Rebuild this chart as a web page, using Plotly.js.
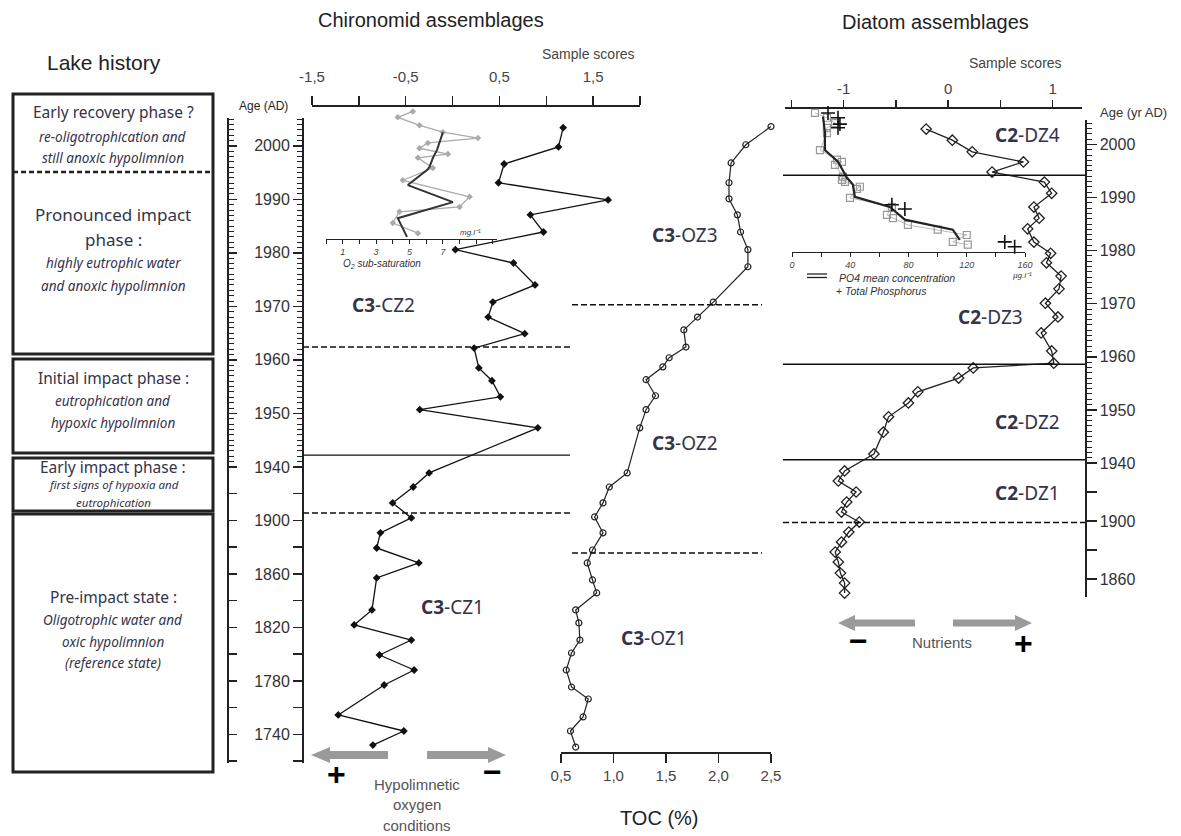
<!DOCTYPE html>
<html><head><meta charset="utf-8">
<script src="https://cdn.plot.ly/plotly-3.0.1.min.js"></script>
<style>body{margin:0;background:#fff}#chart{width:1181px;height:836px}</style>
</head><body><div id="chart"></div>
<script>
// ---------------- DATA ----------------
// Chironomid assemblages (core C3): sample scores vs age (AD)
const chiroAge = [2003.4,1999.8,1996.6,1993.1,1989.9,1987.1,1983.9,1980.6,1978.1,1974.0,1970.8,1968.0,1964.9,1962.2,1958.5,1956.1,1953.1,1950.7,1947.3,1935.5,1925.0,1913.1,1901.9,1890.7,1879.4,1868.2,1857.0,1833.1,1821.9,1810.6,1799.4,1788.2,1777.0,1754.6,1742.6,1732.1];
const chiroScore = [1.18,1.13,0.55,0.49,1.66,0.83,0.97,0.03,0.65,0.88,0.43,0.38,0.77,0.23,0.28,0.42,0.51,-0.35,0.91,-0.25,-0.42,-0.64,-0.44,-0.77,-0.81,-0.36,-0.81,-0.86,-1.05,-0.44,-0.78,-0.41,-0.73,-1.22,-0.52,-0.85];
// TOC (%) on core C3
const tocAge = [2003.6,2000.2,1996.8,1993.1,1990.1,1987.1,1983.9,1980.6,1977.4,1970.8,1968.0,1965.6,1962.4,1960.4,1958.7,1956.3,1953.3,1950.7,1947.3,1935.5,1925.0,1913.1,1902.6,1890.7,1877.9,1868.2,1855.5,1845.8,1833.1,1823.4,1810.6,1800.9,1788.2,1775.5,1766.5,1753.1,1742.6,1730.6];
const tocVal = [2.50,2.26,2.12,2.10,2.10,2.18,2.21,2.28,2.28,1.95,1.80,1.67,1.69,1.53,1.47,1.31,1.40,1.31,1.25,1.13,0.96,0.90,0.82,0.90,0.80,0.75,0.80,0.84,0.64,0.67,0.68,0.60,0.55,0.60,0.76,0.71,0.59,0.64];
// O2 sub-saturation inset (mg/l)
const o2Age = [2006.5,2005.4,2003.9,2002.6,2001.5,2000.6,1999.6,1998.5,1997.8,1995.9,1993.6,1990.5,1988.6,1987.7,1985.6,1983.7];
const o2Val = [5.2,4.3,5.6,7.0,9.1,6.1,5.6,7.3,5.5,6.4,4.6,8.6,8.0,4.4,4.0,5.5];
const o2MeanAge = [2002.6,1999.3,1997.8,1996.1,1995.5,1992.7,1989.5,1986.5,1983.0];
const o2MeanVal = [7.0,6.65,6.4,6.2,6.05,4.9,7.6,4.3,4.85];
// Diatom assemblages (core C2): sample scores vs age (yr AD)
const diatAge = [2002.9,2000.8,1998.6,1996.7,1994.8,1992.9,1990.8,1988.2,1986.1,1984.1,1981.6,1979.5,1977.7,1975.2,1972.8,1970.1,1967.5,1964.5,1961.1,1958.8,1957.9,1956.0,1953.4,1951.3,1948.7,1945.8,1941.7,1934.5,1927.6,1920.0,1913.1,1906.2,1899.3,1892.4,1885.5,1878.6,1871.7,1864.1,1857.2,1850.3];
const diatScore = [-0.21,0.04,0.23,0.72,0.42,0.92,0.99,0.82,0.87,0.76,0.82,0.98,0.94,1.08,1.06,0.93,1.05,0.89,0.99,1.01,0.24,0.10,-0.29,-0.38,-0.57,-0.62,-0.71,-0.99,-1.05,-0.88,-0.97,-1.02,-0.85,-0.95,-1.02,-1.08,-1.05,-1.03,-0.99,-0.99];
// Phosphorus inset (ug/l)
const po4Age = [2005.9,2005.0,2004.0,2003.1,2002.1,1998.9,1997.1,1996.7,1996.1,1993.9,1993.3,1992.9,1992.0,1991.6,1989.9,1988.2,1986.7,1986.1,1984.8,1983.9,1982.9,1981.6,1981.1];
const po4Val = [15.8,24,29.5,24,24,19.2,30.9,34.3,29.5,35,34.3,36.4,46.6,44.6,39.8,68.6,65.2,69.3,79.6,100.1,120,110.4,120.7];
const po4MeanAge = [2005.2,2002.3,1998.9,1996.7,1993.7,1992.4,1990.1,1988.2,1985.8,1983.9,1982.0];
const po4MeanVal = [21.3,22.6,22.6,31.6,37.7,41.8,43.2,67.2,77.5,110.4,115.2];
const tpAge = [2005.9,2005.0,2003.8,2003.1,1988.6,1987.8,1981.6,1980.7];
const tpVal = [24.7,31.6,32.9,31.6,68.6,77.5,146.1,152.9];
// Zone boundaries (age, dashed?)
const czBounds = [[1962.4,true],[1942.2,false],[1905.6,true]];
const ozBounds = [[1970.3,true],[1875.7,true]];
const dzBounds = [[1994.2,false],[1958.6,false],[1940.6,false],[1899.0,true]];
// Tick labels
const chiroScoreTicks = [-1.5,-1,-0.5,0,0.5,1,1.5,2];
const chiroScoreText = ['-1,5','','-0,5','','0,5','','1,5',''];
const tocTicks = [0.5,1,1.5,2,2.5];
const tocText = ['0,5','1,0','1,5','2,0','2,5'];
const o2Ticks = [0,1,2,3,4,5,6,7,8,9,10];
const o2Text = ['','1','','3','','5','','7','','',''];
const diatScoreTicks = [-1.5,-1,-0.5,0,0.5,1];
const diatScoreText = ['','-1','','0','','1'];
const po4Ticks = [0,20,40,60,80,100,120,140,160];
const po4Text = ['0','','40','','80','','120','','160'];
const chiroAgeTicks = [1720,1740,1760,1780,1800,1820,1840,1860,1880,1900,1920,1940,1950,1960,1970,1980,1990,2000];
const chiroAgeText = ['','1740','','1780','','1820','','1860','','1900','','1940','1950','1960','1970','1980','1990','2000'];
const diatAgeTicks = [1860,1880,1900,1920,1940,1950,1960,1970,1980,1990,2000];
const diatAgeText = ['1860','','1900','','1940','1950','1960','1970','1980','1990','2000'];

// --------------- helpers ---------------
const W = 1181, H = 836;
const px = x => x / W, py = y => 1 - y / H;
// age axes are stretched after 1940 (broken scale as in the original figure)
const posC = a => a >= 1940 ? a : 1940 - (1940 - a) / 4;
const posD = a => a >= 1940 ? a : 1940 - (1940 - a) / 3.66;
const minorYears = []; for (let a = 1941; a <= 2005; a++) if (a % 10) minorYears.push(a);

const AX = {showgrid:false, zeroline:false, showline:true, linecolor:'#222', linewidth:1.5,
  tickcolor:'#222', tickwidth:1.5, fixedrange:true, tickmode:'array'};
const FONT = 'Liberation Sans, Arial, sans-serif';
const NOTO = 'Noto Sans, Open Sans, sans-serif';

const chiroRange = [1884.67, 2005.2];
const layout = {
  width: W, height: H, margin:{l:0,r:0,t:0,b:0}, autosize:false,
  paper_bgcolor:'#fff', plot_bgcolor:'rgba(0,0,0,0)', showlegend:false,
  font:{family:FONT, color:'#333'},
  xaxis: Object.assign({}, AX, {domain:[px(312),px(640)], range:[-1.5,2], anchor:'free', position:py(105), side:'top',
    ticks:'outside', ticklen:9, ticklabelstandoff:8, tickvals:chiroScoreTicks, ticktext:chiroScoreText, tickfont:{size:15,color:'#444'}}),
  yaxis: Object.assign({}, AX, {domain:[py(763),py(118)], range:chiroRange, anchor:'free', position:px(302), side:'left',
    ticks:'outside', ticklen:9, tickvals:chiroAgeTicks.map(posC), ticktext:chiroAgeText, tickfont:{size:16,color:'#333'},
    minor:{tickmode:'array', tickvals:minorYears.map(posC), ticks:'outside', ticklen:5, tickwidth:1, tickcolor:'#222'}}),
  yaxis2: Object.assign({}, AX, {overlaying:'y', range:chiroRange, anchor:'free', position:px(227), side:'left',
    ticks:'inside', ticklen:8, tickvals:chiroAgeTicks.map(posC), showticklabels:false,
    minor:{tickmode:'array', tickvals:minorYears.map(posC), ticks:'inside', ticklen:5, tickwidth:1, tickcolor:'#222'}}),
  xaxis2: Object.assign({}, AX, {domain:[px(561),px(771)], range:[0.5,2.5], anchor:'free', position:py(752), side:'bottom',
    ticks:'outside', ticklen:9, tickvals:tocTicks, ticktext:tocText, tickfont:{size:15,color:'#444'}}),
  xaxis3: Object.assign({}, AX, {domain:[px(326),px(497)], range:[0,10.24], anchor:'free', position:py(239), side:'bottom',
    linewidth:1.2, tickwidth:1, ticks:'outside', ticklen:4, tickvals:o2Ticks, ticktext:o2Text,
    tickfont:{size:9,color:'#444',style:'italic'}}),
  yaxis3: {domain:[py(239),py(105)], range:[1982.6,2007.7], visible:false, fixedrange:true},
  xaxis4: Object.assign({}, AX, {domain:[px(785),px(1082)], range:[-1.56,1.28], anchor:'free', position:py(107), side:'top',
    ticks:'outside', ticklen:7, tickvals:diatScoreTicks, ticktext:diatScoreText, tickfont:{size:15,color:'#444'}}),
  yaxis4: Object.assign({}, AX, {domain:[py(597),py(120)], range:[1914.76,2004.6], anchor:'free', position:px(1085), side:'right',
    ticks:'outside', ticklen:10, tickvals:diatAgeTicks.map(posD), ticktext:diatAgeText, tickfont:{size:16,color:'#333'},
    minor:{tickmode:'array', tickvals:minorYears.filter(a=>a<2005).map(posD), ticks:'outside', ticklen:5, tickwidth:1, tickcolor:'#222'}}),
  xaxis5: Object.assign({}, AX, {domain:[px(792),px(1025)], range:[0,160], anchor:'free', position:py(252), side:'bottom',
    linewidth:1.2, tickwidth:1, ticks:'outside', ticklen:4, tickvals:po4Ticks, ticktext:po4Text,
    tickfont:{size:9,color:'#444',style:'italic'}}),
  yaxis5: {domain:[py(252),py(105)], range:[1979.7,2007.4], visible:false, fixedrange:true},
  shapes: [], annotations: []
};

// zone boundary lines
const hline = (yref, y, x0, x1, dashed) => ({type:'line', xref:'paper', yref:yref, x0:px(x0), x1:px(x1), y0:y, y1:y,
  line:{color:'#111', width:1.4, dash: dashed ? '6px,3px' : 'solid'}});
czBounds.forEach(([a,d]) => layout.shapes.push(hline('y', posC(a), 303, 570, d)));
ozBounds.forEach(([a,d]) => layout.shapes.push(hline('y', posC(a), 572, 762, d)));
dzBounds.forEach(([a,d]) => layout.shapes.push(hline('y4', posD(a), 783, 1085, d)));

// lake history boxes
const rect = (x0,y0,x1,y1) => ({type:'rect', xref:'paper', yref:'paper', x0:px(x0), x1:px(x1), y0:py(y1), y1:py(y0),
  line:{color:'#222', width:3}, fillcolor:'rgba(0,0,0,0)'});
layout.shapes.push(rect(13,94,213,354), rect(13,359,213,453), rect(13,458,213,511), rect(13,514,213,772));
layout.shapes.push({type:'line', xref:'paper', yref:'paper', x0:px(13), x1:px(213), y0:py(172), y1:py(172),
  line:{color:'#222', width:2.5, dash:'5px,3px'}});

// grey arrows
const path = pts => 'M ' + pts.map(p => px(p[0]) + ',' + py(p[1])).join(' L ') + ' Z';
const arrow = (tip, base, tail, yc, sh, hh) => ({type:'path', xref:'paper', yref:'paper', fillcolor:'#9a9a9a', line:{width:0},
  path: path([[tip,yc],[base,yc-hh/2],[base,yc-sh/2],[tail,yc-sh/2],[tail,yc+sh/2],[base,yc+sh/2],[base,yc+hh/2]])});
layout.shapes.push(arrow(311,330,388,755,8,16), arrow(506,488,427,755,8,16));
layout.shapes.push(arrow(838,855,915,623,7,16), arrow(1032,1015,953,623,7,16));
// PO4 legend double line
layout.shapes.push({type:'line', xref:'paper', yref:'paper', x0:px(807), x1:px(827), y0:py(274), y1:py(274), line:{color:'#222',width:1.3}});
layout.shapes.push({type:'line', xref:'paper', yref:'paper', x0:px(807), x1:px(827), y0:py(277.5), y1:py(277.5), line:{color:'#222',width:1.3}});

// text
const txt = (t, x, y, size, opts) => Object.assign({text:t, x:px(x), y:py(y), xref:'paper', yref:'paper', showarrow:false,
  xanchor:'center', yanchor:'middle', font:{size:size, color:'#222', family:FONT}}, opts || {});
const boxTxt = (t, y, size, italic) => txt(t, 113, y, size, {font:{size:size, color:'#33334a', family:NOTO, style: italic ? 'italic':'normal'}});
const zoneTxt = (a, b, x, y) => txt('<b>' + a + '</b>-' + b, x, y, 19, {font:{size:19, color:'#33334a', family:NOTO}});
layout.annotations.push(
  txt('Chironomid assemblages', 431, 20, 20),
  txt('Diatom assemblages', 935, 22, 20),
  txt('Lake history', 104, 62, 21),
  txt('Sample scores', 588, 54, 14, {font:{size:14,color:'#444',family:FONT}}),
  txt('Sample scores', 1015, 63, 14, {font:{size:14,color:'#444',family:FONT}}),
  txt('Age (AD)', 263, 106, 12),
  txt('Age (yr AD)', 1133, 112, 13, {font:{size:13,color:'#333',family:FONT}}),
  txt('<i>mg.l⁻¹</i>', 470, 232, 8, {font:{size:8,color:'#333',family:FONT}}),
  txt('<i>O<sub>2</sub> sub-saturation</i>', 382, 264, 10, {font:{size:10,color:'#333',family:FONT}}),
  txt('<i>µg.l⁻¹</i>', 1022, 275, 8, {font:{size:8,color:'#333',family:FONT}}),
  txt('<i>PO4 mean concentration</i>', 897, 278, 10.5, {font:{size:10.5,color:'#333',family:FONT}}),
  txt('+ <i>Total Phosphorus</i>', 881, 291, 10.5, {font:{size:10.5,color:'#333',family:FONT}}),
  txt('TOC (%)', 660, 818, 20),
  txt('Hypolimnetic', 417, 784, 15, {font:{size:15,color:'#555',family:FONT}}),
  txt('oxygen', 417, 804, 15, {font:{size:15,color:'#555',family:FONT}}),
  txt('conditions', 417, 825, 15, {font:{size:15,color:'#555',family:FONT}}),
  txt('<b>+</b>', 336, 774, 32, {font:{size:32,color:'#000',family:FONT}}),
  txt('<b>−</b>', 492, 772, 32, {font:{size:32,color:'#000',family:FONT}}),
  txt('Nutrients', 942, 642, 15, {font:{size:15,color:'#555',family:FONT}}),
  txt('<b>−</b>', 858, 641, 32, {font:{size:32,color:'#000',family:FONT}}),
  txt('<b>+</b>', 1023, 643, 32, {font:{size:32,color:'#000',family:FONT}}),
  zoneTxt('C3','CZ2', 384, 305), zoneTxt('C3','CZ1', 452, 607),
  zoneTxt('C3','OZ3', 685, 235), zoneTxt('C3','OZ2', 685, 443), zoneTxt('C3','OZ1', 654, 638),
  zoneTxt('C2','DZ4', 1027, 135), zoneTxt('C2','DZ3', 990, 317), zoneTxt('C2','DZ2', 1027, 422), zoneTxt('C2','DZ1', 1027, 493),
  boxTxt('Early recovery phase ?', 112, 15.5), boxTxt('re-oligotrophication and', 137, 13.5, true), boxTxt('still anoxic hypolimnion', 158, 13.5, true),
  boxTxt('Pronounced impact', 215, 17), boxTxt('phase :', 240, 17), boxTxt('highly eutrophic water', 263, 13.5, true), boxTxt('and anoxic hypolimnion', 286, 13.5, true),
  boxTxt('Initial impact phase :', 378, 15.5), boxTxt('eutrophication and', 401, 13.5, true), boxTxt('hypoxic hypolimnion', 423, 13.5, true),
  boxTxt('Early impact phase :', 467, 15.5), boxTxt('first signs of hypoxia and', 485, 11.5, true), boxTxt('eutrophication', 502, 11.5, true),
  boxTxt('Pre-impact state :', 597, 15.5), boxTxt('Oligotrophic water and', 620, 13.5, true), boxTxt('oxic hypolimnion', 642, 13.5, true), boxTxt('(reference state)', 663, 13.5, true)
);

// --------------- traces ---------------
const traces = [
  {x:chiroScore, y:chiroAge.map(posC), xaxis:'x', yaxis:'y', mode:'lines+markers', cliponaxis:false,
   line:{color:'#111', width:1.3}, marker:{symbol:'diamond', size:6, color:'#111'}, hoverinfo:'skip'},
  {x:[0], y:[1950], xaxis:'x', yaxis:'y2', mode:'markers', marker:{opacity:0}, hoverinfo:'skip'},
  {x:tocVal, y:tocAge.map(posC), xaxis:'x2', yaxis:'y', mode:'lines+markers', cliponaxis:false,
   line:{color:'#222', width:1.2}, marker:{symbol:'circle-open', size:6, color:'#222', line:{width:1.2}}, hoverinfo:'skip'},
  {x:o2Val, y:o2Age, xaxis:'x3', yaxis:'y3', mode:'lines+markers', cliponaxis:false,
   line:{color:'#aaa', width:1.3}, marker:{symbol:'diamond', size:5, color:'#aaa'}, hoverinfo:'skip'},
  {x:o2MeanVal, y:o2MeanAge, xaxis:'x3', yaxis:'y3', mode:'lines', cliponaxis:false,
   line:{color:'#333', width:2}, hoverinfo:'skip'},
  {x:diatScore, y:diatAge.map(posD), xaxis:'x4', yaxis:'y4', mode:'lines+markers', cliponaxis:false,
   line:{color:'#222', width:1.3}, marker:{symbol:'diamond-open', size:8, color:'#222', line:{width:1.3}}, hoverinfo:'skip'},
  {x:po4Val, y:po4Age, xaxis:'x5', yaxis:'y5', mode:'lines+markers', cliponaxis:false,
   line:{color:'#bbb', width:1}, marker:{symbol:'square-open', size:7, color:'#999', line:{width:1.2}}, hoverinfo:'skip'},
  {x:po4MeanVal, y:po4MeanAge, xaxis:'x5', yaxis:'y5', mode:'lines', cliponaxis:false,
   line:{color:'#222', width:2.2}, hoverinfo:'skip'},
  {x:tpVal, y:tpAge, xaxis:'x5', yaxis:'y5', mode:'markers', cliponaxis:false,
   marker:{symbol:'cross-thin-open', size:10, color:'#111', line:{width:1.6, color:'#111'}}, hoverinfo:'skip'}
];

Plotly.newPlot('chart', traces, layout, {displayModeBar:false, staticPlot:true});
</script>
</body></html>
